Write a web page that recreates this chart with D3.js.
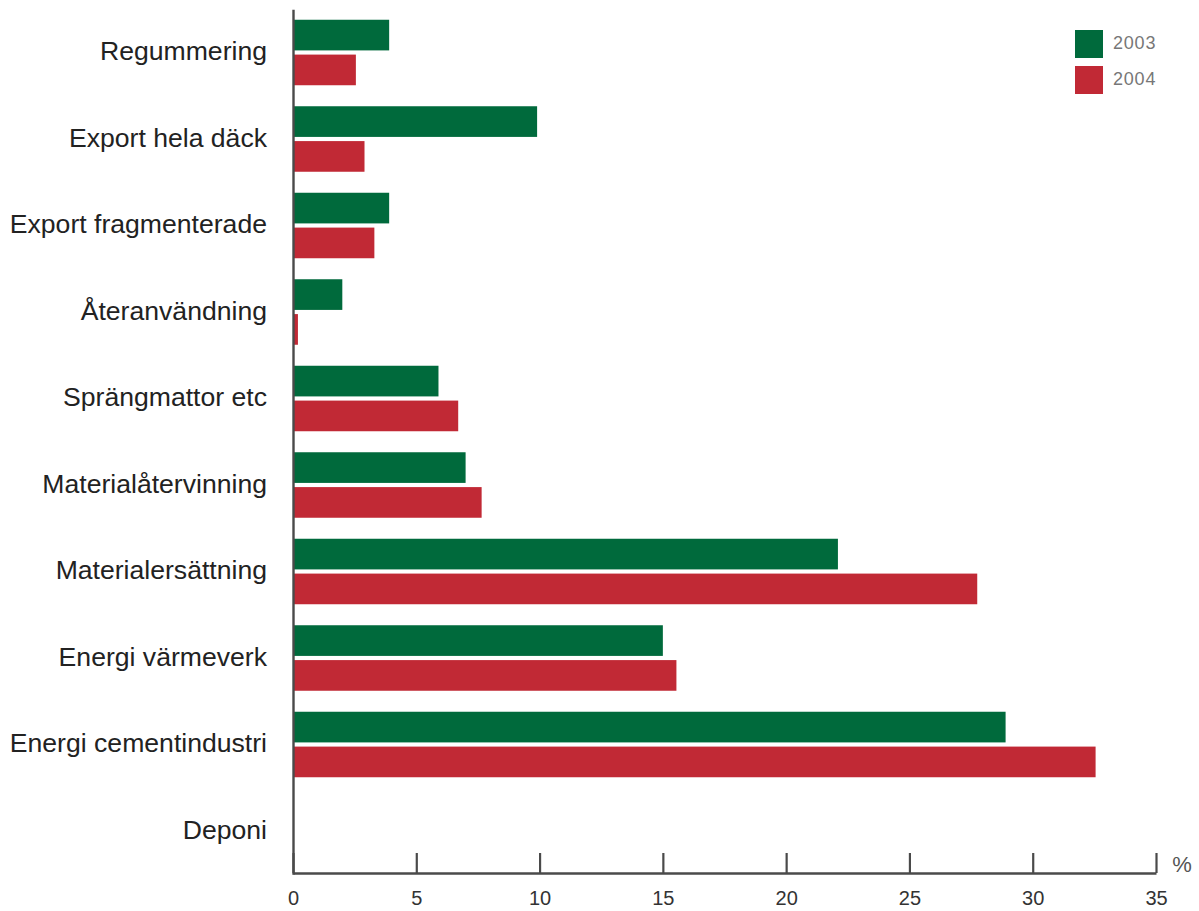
<!DOCTYPE html>
<html>
<head>
<meta charset="utf-8">
<script src="https://cdn.jsdelivr.net/npm/d3@7"></script>
<style>
  html, body { margin: 0; padding: 0; background: #ffffff; }
  svg { display: block; font-family: "Liberation Sans", Arial, Helvetica, sans-serif; }
</style>
</head>
<body>
<svg id="chart" width="1199" height="911"></svg>
<script>
const categories = [
  "Regummering",
  "Export hela däck",
  "Export fragmenterade",
  "Återanvändning",
  "Sprängmattor etc",
  "Materialåtervinning",
  "Materialersättning",
  "Energi värmeverk",
  "Energi cementindustri",
  "Deponi"
];
const series = ["2003", "2004"];
const values2003 = [3.9, 9.9, 3.9, 2.0, 5.9, 7.0, 22.1, 15.0, 28.9, 0];
const values2004 = [2.55, 2.9, 3.3, 0.2, 6.7, 7.65, 27.75, 15.55, 32.55, 0];
const xTicks = [0, 5, 10, 15, 20, 25, 30, 35];
const unitLabel = "%";
const colors = ["#006a3c", "#c12935"];

const svg = d3.select("#chart");

const x = d3.scaleLinear().domain([0, 35]).range([293, 1156]);
const y = d3.scaleBand().domain(categories).range([9.25, 874.25]).paddingInner(0).paddingOuter(0);
const ySub = d3.scaleBand().domain(series).range([10.5, 76]).paddingInner(0.12).paddingOuter(0);
const color = d3.scaleOrdinal().domain(series).range(colors);

const rows = categories.map((c, i) => ({
  cat: c,
  vals: [
    { s: "2003", v: values2003[i] },
    { s: "2004", v: values2004[i] }
  ]
}));

// bars
const groups = svg.append("g").selectAll("g")
  .data(rows).join("g")
  .attr("transform", d => `translate(0,${y(d.cat)})`);

groups.selectAll("rect")
  .data(d => d.vals.filter(e => e.v > 0))
  .join("rect")
  .attr("x", x(0))
  .attr("y", d => ySub(d.s))
  .attr("width", d => x(d.v) - x(0))
  .attr("height", ySub.bandwidth())
  .attr("fill", d => color(d.s));

// x axis
const xAxis = d3.axisBottom(x)
  .tickValues(xTicks)
  .tickFormat(d3.format("d"))
  .tickSizeInner(-20)
  .tickSizeOuter(0)
  .tickPadding(18);

const gx = svg.append("g")
  .attr("transform", "translate(0,873)")
  .call(xAxis);
gx.select(".domain").attr("stroke", "#4a4a4a").attr("stroke-width", 2.4);
gx.selectAll(".tick line").attr("stroke", "#4a4a4a").attr("stroke-width", 2.2);
gx.selectAll(".tick text")
  .attr("fill", "#333")
  .style("font-size", "20px")
  .style("font-family", "'Liberation Sans', Arial, sans-serif");

// y axis
const yAxis = d3.axisLeft(y).tickSize(0).tickSizeOuter(0).tickPadding(26);
const gy = svg.append("g")
  .attr("transform", `translate(${x(0)},0)`)
  .call(yAxis);
gy.select(".domain").attr("stroke", "#4a4a4a").attr("stroke-width", 2.4);
gy.selectAll(".tick text")
  .attr("fill", "#222")
  .attr("dy", "0.3em")
  .style("font-size", "26.6px")
  .style("font-family", "'Liberation Sans', Arial, sans-serif");

// unit label
svg.append("text")
  .attr("x", 1182)
  .attr("y", 872)
  .attr("text-anchor", "middle")
  .attr("fill", "#555")
  .style("font-size", "22px")
  .text(unitLabel);

// legend
const legend = svg.append("g").attr("transform", "translate(1075,30)");
const li = legend.selectAll("g").data(series).join("g")
  .attr("transform", (d, i) => `translate(0,${i * 36})`);
li.append("rect")
  .attr("width", 28).attr("height", 28)
  .attr("fill", d => color(d));
li.append("text")
  .attr("x", 38).attr("y", 19)
  .attr("fill", "#777")
  .style("font-size", "18px")
  .style("letter-spacing", "0.8px")
  .text(d => d);
</script>
</body>
</html>
